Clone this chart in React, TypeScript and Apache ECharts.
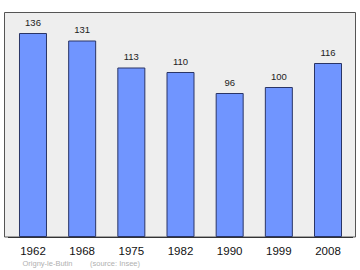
import React, { useEffect, useRef } from "react";
import * as echarts from "echarts";

const years = ["1962", "1968", "1975", "1982", "1990", "1999", "2008"];
const population = [136, 131, 113, 110, 96, 100, 116];
const footerPlace = "Origny-le-Butin";
const footerSource = "(source: Insee)";

export default function App() {
  const ref = useRef<HTMLDivElement>(null);
  useEffect(() => {
    if (!ref.current) return;
    const chart = echarts.init(ref.current, null, { renderer: "svg" });
    chart.setOption({
      animation: false,
      backgroundColor: "#ffffff",
      textStyle: { fontFamily: "Liberation Sans" },
      graphic: [
        {
          type: "rect",
          z: -10,
          shape: { x: 4.5, y: 12.5, width: 351, height: 224.5 },
          style: { fill: "#eeeeee", stroke: "#555555", lineWidth: 1 },
        },
        {
          type: "text",
          left: 22.5,
          top: 259,
          style: { text: footerPlace, fill: "#b0b0b0", fontSize: 7.5, fontFamily: "Liberation Sans" },
        },
        {
          type: "text",
          left: 90,
          top: 259,
          style: { text: footerSource, fill: "#b0b0b0", fontSize: 7.5, fontFamily: "Liberation Sans" },
        },
      ],
      grid: { left: 8.4, right: 7.4, top: 12, bottom: 33 },
      xAxis: {
        type: "category",
        data: years,
        axisLine: { show: true, lineStyle: { color: "#333333", width: 1 } },
        axisTick: { show: false },
        axisLabel: { color: "#111111", fontSize: 11.5, margin: 8, fontFamily: "Liberation Sans" },
      },
      yAxis: {
        type: "value",
        min: 0,
        max: 150,
        show: false,
        splitLine: { show: false },
      },
      series: [
        {
          type: "bar",
          data: population,
          barWidth: 28,
          itemStyle: { color: "#7095ff", borderColor: "#2a3566", borderWidth: 1 },
          label: {
            show: true,
            position: "top",
            distance: 6,
            color: "#222222",
            fontSize: 9.5,
            fontFamily: "Liberation Sans",
          },
        },
      ],
    });
    return () => chart.dispose();
  }, []);
  return (
    <div
      ref={ref}
      style={{ position: "fixed", left: 0, top: 0, width: 360, height: 270 }}
    />
  );
}
